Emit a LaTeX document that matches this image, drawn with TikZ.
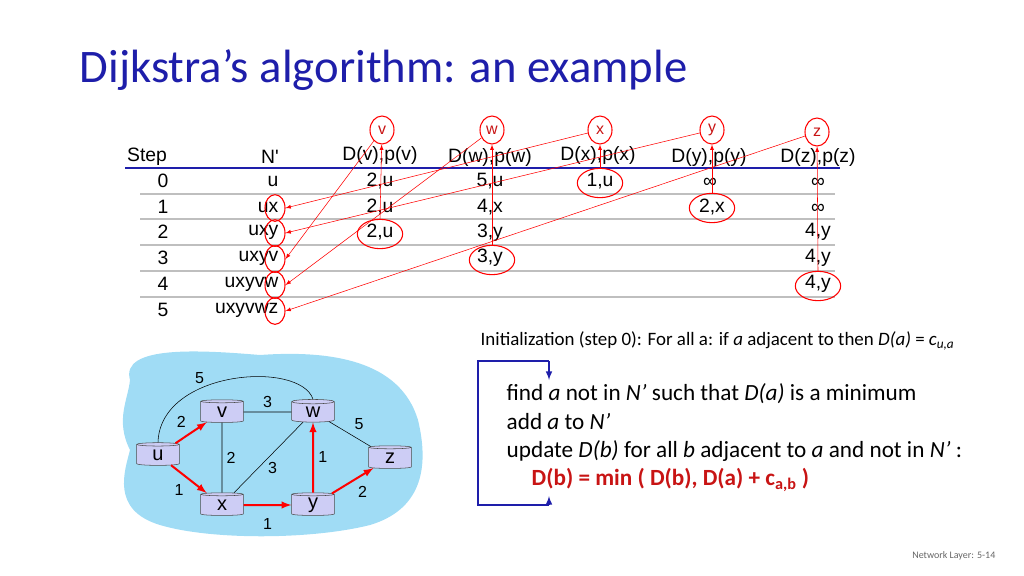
\documentclass[tikz,border=0pt]{standalone}
\usepackage{fontspec}
\setmainfont{Carlito}
\newfontfamily\tabfont{Liberation Sans}
\usepackage{xcolor}
\usetikzlibrary{shapes.geometric}
\definecolor{titleblue}{RGB}{30,30,170}
\definecolor{cloud}{RGB}{160,220,245}
\definecolor{router}{RGB}{205,205,245}
\definecolor{tred}{RGB}{200,20,20}
\tikzset{
  tab/.style={font=\tabfont\fontsize{14.5}{16}\selectfont,inner sep=1pt},
  ring/.style={ellipse,draw=red,thick,minimum width=34,minimum height=22,inner sep=0pt},
  top/.style={ring,minimum width=18,minimum height=21,text=tred,font=\tabfont\fontsize{12}{14}\selectfont},
  nring/.style={ring,minimum width=15,minimum height=20},
  rt/.style={cylinder,shape border rotate=90,aspect=0.3,draw=black!70,fill=router,
    minimum width=32,minimum height=17,inner sep=0pt,font=\tabfont\fontsize{15}{16}\selectfont},
  wt/.style={font=\tabfont\fontsize{12}{14}\selectfont},
}
\begin{document}
\begin{tikzpicture}[x=0.75pt,y=-0.75pt]
    \useasboundingbox (0,0) rectangle (1024,575);
    \node[anchor=west,text=titleblue,font=\fontsize{35}{38}\selectfont](title)at(75,70){Dijkstra’s algorithm: an example};
    % table head
    \node[tab](hs)at(147,157){Step};
    \node[tab](hn)at(270,157){N'};
    \node[tab](hv)at(380,155){D(v),p(v)};
    \node[tab](hw)at(490,157){D(w),p(w)};
    \node[tab](hx)at(598,155){D(x),p(x)};
    \node[tab](hy)at(709,157){D(y),p(y)};
    \node[tab](hz)at(818,157){D(z),p(z)};
    \draw[titleblue,line width=1.5pt] (125,168) -- (840,168);
    \foreach \y in {194,219,245,271,297}
      \draw[black!25,line width=1pt] (140,\y) -- (835,\y);
    % steps
    \foreach \s/\y in {0/181,1/207,2/232,3/258,4/284,5/310}
      \node[tab] at (163,\y) {\s};
    \node[tab,anchor=east](n0)at(280,181){u};
    \node[tab,anchor=east](n1)at(280,207){ux};
    \node[tab,anchor=east](n2)at(280,232){uxy};
    \node[tab,anchor=east](n3)at(280,258){uxyv};
    \node[tab,anchor=east](n4)at(280,284){uxyvw};
    \node[tab,anchor=east](n5)at(280,310){uxyvwz};
    % entries
    \node[tab](v0)at(380,181){2,u};
    \node[tab](v1)at(380,207){2,u};
    \node[tab](v2)at(380,232){2,u};
    \node[tab](w0)at(490,181){5,u};
    \node[tab](w1)at(490,207){4,x};
    \node[tab](w2)at(490,233){3,y};
    \node[tab](w3)at(490,258){3,y};
    \node[tab](x0)at(600,181){1,u};
    \node[tab](y0)at(710,183){∞};
    \node[tab](y1)at(712,207){2,x};
    \node[tab](z0)at(818,183){∞};
    \node[tab](z1)at(818,209){∞};
    \node[tab](z2)at(818,232){4,y};
    \node[tab](z3)at(818,258){4,y};
    \node[tab](z4)at(818,284){4,y};
    % circled
    \node[ring](cv)at(380,234){};
    \node[ring](cw)at(492,260){};
    \node[ring](cx)at(600,183){};
    \node[ring](cy)at(712,208){};
    \node[ring](cz)at(818,286){};
    \node[nring](m1)at(275,208){};
    \node[nring](m2)at(275,233){};
    \node[nring](m3)at(275,259){};
    \node[nring](m4)at(275,285){};
    \node[nring](m5)at(275,311){};
    \node[top](tv)at(382,130){v};
    \node[top](tw)at(492,130){w};
    \node[top](tx)at(600,130){x};
    \node[top](ty)at(712,130){y};
    \node[top](tz)at(817,132){z};
    \draw[>=latex,->,red] (cv.north) -- (tv);
    \draw[>=latex,->,red] (cw.north) -- (tw);
    \draw[>=latex,->,red] (cx.north) -- (tx);
    \draw[>=latex,->,red] (cy.north) -- (ty);
    \draw[>=latex,->,red] (cz.north) -- (tz);
    \draw[>=latex,->,red] (tx) -- (m1.east);
    \draw[>=latex,->,red] (ty) -- (m2.east);
    \draw[>=latex,->,red] (tv) -- (m3.east);
    \draw[>=latex,->,red] (tw) -- (m4.east);
    \draw[>=latex,->,red] (tz) -- (m5.east);
    % network
    \fill[cloud] (130,380) .. controls (120,345) and (200,350) .. (260,355)
      .. controls (330,350) and (400,360) .. (418,420)
      .. controls (430,470) and (420,510) .. (370,525)
      .. controls (310,540) and (210,540) .. (160,525)
      .. controls (110,510) and (125,470) .. (130,450)
      .. controls (115,420) and (128,400) .. (130,380) -- cycle;
    \node[rt](u)at(158,455){u};
    \node[rt](v)at(222,412){v};
    \node[rt](w)at(313,412){w};
    \node[rt](x)at(222,505){x};
    \node[rt](y)at(313,505){y};
    \node[rt](z)at(390,458){z};
    \draw (u.north) .. controls (160,370) and (300,360) .. (w.north) node[wt,pos=0.35,above]{5};
    \draw (v) -- (w) node[wt,midway,above]{3};
    \draw (v) -- (x) node[wt,midway,right]{2};
    \draw (x) -- (w) node[wt,pos=0.35,right,xshift=4]{3};
    \draw (w) -- (z) node[wt,midway,above right]{5};
    \draw[>=latex,->,red,line width=1.5pt] (u) -- (v) node[wt,text=black,midway,above left]{2};
    \draw[>=latex,->,red,line width=1.5pt] (u) -- (x) node[wt,text=black,midway,below left]{1};
    \draw[>=latex,->,red,line width=1.5pt] (x) -- (y) node[wt,text=black,midway,below,yshift=-6]{1};
    \draw[>=latex,->,red,line width=1.5pt] (y) -- (w) node[wt,text=black,midway,right]{1};
    \draw[>=latex,->,red,line width=1.5pt] (y) -- (z) node[wt,text=black,midway,below right]{2};
    % algorithm text
    \node[anchor=west,font=\fontsize{14.2}{16}\selectfont](init)at(476,341){Initialization (step 0): For all a: if \emph{a} adjacent to then \emph{D(a)} = \emph{c}\textsubscript{\emph{u,a}}};
    \node[anchor=west,font=\fontsize{17.4}{19}\selectfont](l1)at(502,394){find \emph{a} not in \emph{N'} such that \emph{D(a)} is a minimum};
    \node[anchor=west,font=\fontsize{17.4}{19}\selectfont](l2)at(502,422){add \emph{a} to \emph{N'}};
    \node[anchor=west,font=\fontsize{17.4}{19}\selectfont](l3)at(502,451){update \emph{D(b)} for all \emph{b} adjacent to \emph{a} and not in \emph{N'} :};
    \node[anchor=west,text=tred,font=\bfseries\fontsize{17.4}{19}\selectfont](l4)at(527,480){D(b) = min ( D(b), D(a) + c\textsubscript{a,b} )};
    \coordinate (lt)at(549,361);
    \coordinate (le)at(549,380);
    \coordinate (lb)at(549,505);
    \coordinate (lu)at(549,496);
    \draw[titleblue,line width=1.2pt,>=latex,->] (lb) -- (lu);
    \draw[titleblue,line width=1.2pt] (lb) -- (478,505) -- (478,361) -- (lt);
    \draw[titleblue,line width=1.2pt,>=latex,->] (lt) -- (le);
    \node[anchor=east,text=black!60,font=\fontsize{7.5}{9}\selectfont](foot)at(1000,556){Network Layer: 5-14};
\end{tikzpicture}
\end{document}
